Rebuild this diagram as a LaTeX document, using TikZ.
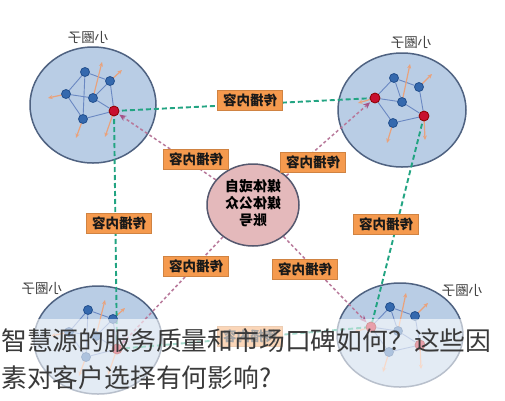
\documentclass[tikz,border=0pt]{standalone}
\usepackage{fontspec}
\usepackage{graphicx}
\usetikzlibrary{arrows.meta,shapes.geometric}
\newfontfamily\cjk{Noto Sans CJK SC}
\definecolor{circfill}{HTML}{B9CDE5}
\definecolor{circdraw}{HTML}{4F6281}
\definecolor{cenfill}{HTML}{E4B9BB}
\definecolor{cendraw}{HTML}{55586E}
\definecolor{boxfill}{HTML}{F59A4E}
\definecolor{greenline}{HTML}{22A482}
\definecolor{pinkline}{HTML}{B8789A}
\definecolor{pinktip}{HTML}{A65488}
\definecolor{bluenode}{HTML}{3569AE}
\definecolor{bluedraw}{HTML}{23508E}
\definecolor{rednode}{HTML}{C8102E}
\definecolor{netline}{HTML}{6A88C2}
\definecolor{arrowor}{HTML}{E9A27C}
\definecolor{overtext}{HTML}{3A3A3A}
\pgfdeclarelayer{bg}
\pgfdeclarelayer{mid}
\pgfdeclarelayer{top}
\pgfsetlayers{bg,mid,main,top}
\tikzset{
  grp/.style={fill=circfill, draw=circdraw, line width=1.5pt},
  bnode/.style={circle, fill=bluenode, draw=bluedraw, line width=0.8pt, minimum size=9pt, inner sep=0pt},
  rnode/.style={circle, fill=rednode, draw=red!55!black, line width=0.8pt, minimum size=10pt, inner sep=0pt},
  net/.style={netline, line width=0.9pt},
  oarr/.style={arrowor, line width=1.2pt, -{Stealth[length=4.5pt,width=4pt]}},
  gline/.style={greenline, line width=1.9pt, dash pattern=on 5pt off 3pt},
  pline/.style={pinkline, line width=1.5pt, dash pattern=on 3pt off 2.5pt, -{Stealth[length=7pt,width=6pt,color=pinktip]}, shorten >=1pt},
  lbl/.style={fill=boxfill, draw=boxfill!85!black, line width=0.4pt, minimum width=65pt, minimum height=20pt, inner sep=0pt, font=\cjk\bfseries\fontsize{13.5}{13.5}\selectfont, text=black!90},
  ttl/.style={inner sep=0pt, font=\cjk\fontsize{13.5}{13.5}\selectfont, text=black!75},
}
\begin{document}
\begin{tikzpicture}[x=1pt,y=-1pt]
\useasboundingbox (0,0) rectangle (505,400);

% group circles
\begin{pgfonlayer}{bg}
\fill[white] (0,0) rectangle (505,400);
\draw[grp] (93,105) ellipse [x radius=63, y radius=58];
\draw[grp] (402,110) ellipse [x radius=64, y radius=57];
\draw[grp] (98,340) ellipse [x radius=64, y radius=54];
\draw[grp] (400,335) ellipse [x radius=63, y radius=52];
\end{pgfonlayer}

% titles
\node[ttl] (t1) at (88,37) {\reflectbox{小圈子}};
\node[ttl] (t2) at (411,42) {\reflectbox{小圈子}};
\node[ttl] (t3) at (42,288) {\reflectbox{小圈子}};
\node[ttl] (t4) at (462,290) {\reflectbox{小圈子}};

% ---------- top-left network
\node[bnode] (aA) at (85,72) {};
\node[bnode] (aB) at (110,81) {};
\node[bnode] (aC) at (66,94) {};
\node[bnode] (aD) at (93,98) {};
\node[bnode] (aE) at (83,119) {};
\node[rnode] (aR) at (114,111) {};
\coordinate (aD1) at (102,62);
\coordinate (aB1) at (122,70);
\coordinate (aC1) at (48,98);
\coordinate (aE1) at (76,138);
\coordinate (aR1) at (105,137);
% ---------- top-right network
\node[bnode] (bA) at (394,78) {};
\node[bnode] (bB) at (419,87) {};
\node[rnode] (bR) at (375,98) {};
\node[bnode] (bD) at (402,102) {};
\node[bnode] (bE) at (393,123) {};
\node[rnode] (bS) at (424,116) {};
\coordinate (bD1) at (410,64);
\coordinate (bB1) at (432,74);
\coordinate (bR1) at (358,103);
\coordinate (bE1) at (387,143);
\coordinate (bS1) at (425,140);
% ---------- bottom-left network
\node[bnode] (cA) at (88,310) {};
\node[bnode] (cB) at (113,319) {};
\node[bnode] (cC) at (69,332) {};
\node[bnode] (cD) at (96,336) {};
\node[bnode] (cE) at (86,357) {};
\node[rnode] (cR) at (117,349) {};
\coordinate (cD1) at (105,300);
\coordinate (cB1) at (125,308);
\coordinate (cC1) at (51,336);
\coordinate (cE1) at (79,376);
\coordinate (cR1) at (108,375);
% ---------- bottom-right network
\node[bnode] (dA) at (390,307) {};
\node[bnode] (dB) at (415,316) {};
\node[rnode] (dR) at (371,327) {};
\node[bnode] (dD) at (398,331) {};
\node[bnode] (dE) at (389,352) {};
\node[rnode] (dS) at (420,345) {};
\coordinate (dD1) at (406,293);
\coordinate (dB1) at (428,303);
\coordinate (dR1) at (354,332);
\coordinate (dE1) at (383,372);
\coordinate (dS1) at (421,369);

% center
\node[ellipse, fill=cenfill, draw=cendraw, line width=1.5pt, minimum width=92pt, minimum height=82pt, inner sep=0pt] (cen) at (253,205)
  {\reflectbox{\cjk\bfseries\fontsize{14}{16.5}\selectfont\begin{tabular}{@{}c@{}}媒体或自\\媒体公众\\账号\end{tabular}}};

\begin{pgfonlayer}{mid}
% network edges
\draw[net] (aA)--(aB) (aA)--(aC) (aA)--(aE) (aC)--(aD) (aC)--(aE) (aB)--(aD) (aB)--(aR) (aD)--(aR) (aE)--(aR);
\draw[net] (bA)--(bB) (bA)--(bR) (bA)--(bD) (bR)--(bD) (bR)--(bE) (bD)--(bS) (bB)--(bS) (bE)--(bS);
\draw[net] (cA)--(cB) (cA)--(cC) (cA)--(cE) (cC)--(cD) (cC)--(cE) (cB)--(cD) (cB)--(cR) (cD)--(cR) (cE)--(cR);
\draw[net] (dA)--(dB) (dA)--(dR) (dA)--(dD) (dR)--(dD) (dR)--(dE) (dD)--(dS) (dB)--(dS) (dE)--(dS);
% orange arrows
\draw[oarr] (aD.center)--(aD1); \draw[oarr] (aB.center)--(aB1); \draw[oarr] (aC.center)--(aC1);
\draw[oarr] (aE.center)--(aE1); \draw[oarr] (aR.center)--(aR1);
\draw[oarr] (bD.center)--(bD1); \draw[oarr] (bB.center)--(bB1); \draw[oarr] (bR.center)--(bR1);
\draw[oarr] (bE.center)--(bE1); \draw[oarr] (bS.center)--(bS1);
\draw[oarr] (cD.center)--(cD1); \draw[oarr] (cB.center)--(cB1); \draw[oarr] (cC.center)--(cC1);
\draw[oarr] (cE.center)--(cE1); \draw[oarr] (cR.center)--(cR1);
\draw[oarr] (dD.center)--(dD1); \draw[oarr] (dB.center)--(dB1); \draw[oarr] (dR.center)--(dR1);
\draw[oarr] (dE.center)--(dE1); \draw[oarr] (dS.center)--(dS1);
% green links
\draw[gline] (aR.center)--(bR.center);
\draw[gline] (aR.center)--(cR.center);
\draw[gline] (bS.center)--(dR.center);
\draw[gline] (cR.center)--(dR.center);
% pink arrows
\draw[pline] (cen)--(aR);
\draw[pline] (cen)--(bR);
\draw[pline] (cen)--(cR);
\draw[pline] (cen)--(dR);
\end{pgfonlayer}

% labels
\node[lbl] (l1) at (250,100) {\reflectbox{传播内容}};
\node[lbl] (l2) at (196,159) {\reflectbox{传播内容}};
\node[lbl] (l3) at (313,162) {\reflectbox{传播内容}};
\node[lbl] (l4) at (119,223) {\reflectbox{传播内容}};
\node[lbl] (l5) at (386,224) {\reflectbox{传播内容}};
\node[lbl] (l6) at (196,266) {\reflectbox{传播内容}};
\node[lbl] (l7) at (305,269) {\reflectbox{传播内容}};
\node[lbl] (l8) at (250,336) {\reflectbox{传播内容}};

% overlay
\begin{pgfonlayer}{top}
\fill[white, opacity=0.6] (0,319) rectangle (505,400);
\node[anchor=base west, inner sep=0pt, text=overtext, font=\cjk\fontsize{25.8}{25.8}\selectfont] (q1) at (1,350) {智慧源的服务质量和市场口碑如何？这些因};
\node[anchor=base west, inner sep=0pt, text=overtext, font=\cjk\fontsize{25.8}{25.8}\selectfont] (q2) at (1,387) {素对客户选择有何影响?};
\end{pgfonlayer}
\end{tikzpicture}
\end{document}
